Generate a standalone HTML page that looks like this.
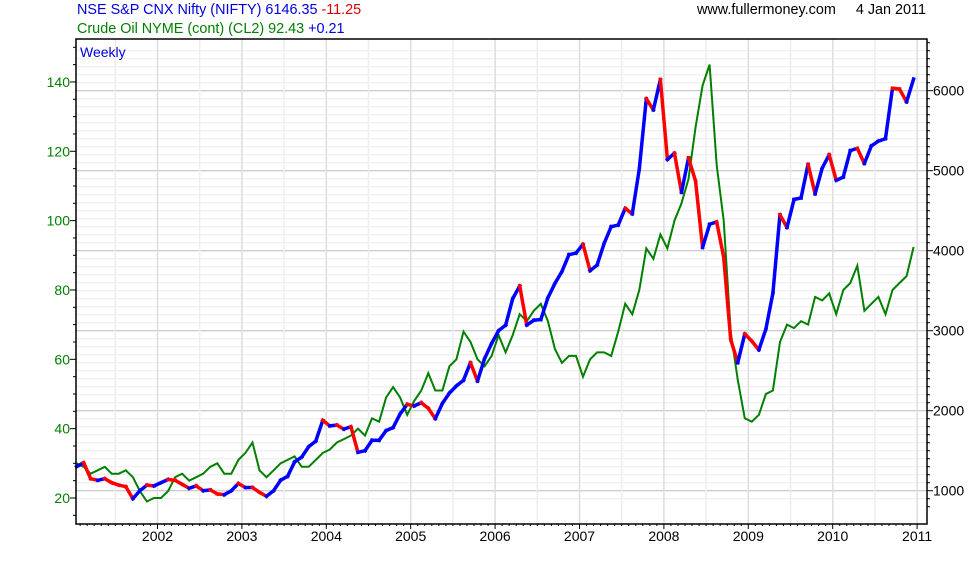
<!DOCTYPE html>
<html><head><meta charset="utf-8"><style>
body{margin:0;background:#fff;width:980px;height:560px;overflow:hidden;font-family:"Liberation Sans",sans-serif}
svg text{font-family:"Liberation Sans",sans-serif}
</style></head><body>
<svg id="c" width="980" height="560" xmlns="http://www.w3.org/2000/svg">
<text x="77" y="14" font-size="14.4" fill="#0000dd">NSE S&amp;P CNX Nifty (NIFTY) 6146.35 <tspan fill="#dd0000">-11.25</tspan></text>
<text x="77" y="33" font-size="14.4" fill="#008000">Crude Oil NYME (cont) (CL2) 92.43 <tspan fill="#0000dd">+0.21</tspan></text>
<text x="926" y="14" font-size="14.4" fill="#000" text-anchor="end">www.fullermoney.com &#160;&#160;&#160; 4 Jan 2011</text>
<g id="grid"></g><g id="series"></g><g id="axes"></g>
<text x="80" y="57" font-size="14" fill="#0000dd">Weekly</text>
</svg>
<script>
const years=['2002','2003','2004','2005','2006','2007','2008','2009','2010','2011'];
const oilTicks=[20,40,60,80,100,120,140];
const niftyTicks=[1000,2000,3000,4000,5000,6000];
const nifty=[1300,1350,1150,1130,1150,1100,1070,1050,900,1000,1070,1060,
1100,1140,1130,1080,1030,1060,1000,1010,960,950,1000,1090,
1040,1040,980,930,1000,1130,1180,1360,1420,1550,1620,1880,
1810,1820,1770,1800,1480,1500,1630,1630,1750,1790,1960,2080,
2060,2100,2030,1900,2090,2220,2310,2380,2600,2370,2650,2840,
3000,3070,3400,3560,3070,3130,3140,3410,3590,3740,3950,3970,
4080,3750,3820,4090,4300,4320,4530,4460,5020,5900,5760,6140,
5140,5220,4730,5160,4870,4040,4330,4360,3920,2890,2600,2960,
2870,2760,3020,3470,4450,4290,4640,4660,5080,4710,5030,5200,
4880,4920,5250,5280,5090,5310,5370,5400,6030,6020,5860,6146];
const oil=[30,29,27,28,29,27,27,28,26,22,19,20,
20,22,26,27,25,26,27,29,30,27,27,31,
33,36,28,26,28,30,31,32,29,29,31,33,
34,36,37,38,40,38,43,42,49,52,49,44,
48,51,56,51,51,58,60,68,65,60,58,61,
67,62,67,73,71,74,76,71,63,59,61,61,
55,60,62,62,61,68,76,73,80,92,89,96,
92,100,105,112,127,139,145,116,100,68,54,43,
42,44,50,51,65,70,69,71,70,78,77,79,
73,80,82,87,74,76,78,73,80,82,84,92.4];
const L=76,R=927,T=39,B=524,x2001=73.1,pxYear=84.4;
const xOf=i=>x2001+(i+0.5)/12*pxYear;
const yOil=v=>498-(v-20)*3.467;
const yN=v=>490.7-(v-1000)*0.08;
const NS='http://www.w3.org/2000/svg';
function mk(t,a,p){const e=document.createElementNS(NS,t);for(const k in a)e.setAttribute(k,a[k]);p.appendChild(e);return e;}
const grid=document.getElementById('grid'),ser=document.getElementById('series'),ax=document.getElementById('axes');
for(let v=900;v<=6500;v+=100){const y=yN(v);if(y<T||y>B)continue;const l=mk('line',{x1:L,x2:R,y1:y,y2:y,stroke:v%1000==0?'#bbbbbb':'#ececec','stroke-width':1},grid);

}
for(let k=0;k<21;k++){const x=x2001+k*pxYear/2;if(x<L||x>R)continue;const l=mk('line',{x1:x,x2:x,y1:T,y2:B,stroke:k%2==0?'#dddddd':'#eeeeee','stroke-width':1.5},grid);

}
let op='';oil.forEach((v,i)=>{op+=(i?'L':'M')+xOf(i).toFixed(1)+' '+yOil(v).toFixed(1)+' ';});
const po=mk('path',{d:op,fill:'none',stroke:'#008000','stroke-width':2},ser);


for(let i=1;i<nifty.length;i++){const up=nifty[i]>=nifty[i-1];
const s=mk('line',{x1:xOf(i-1),y1:yN(nifty[i-1]),x2:xOf(i),y2:yN(nifty[i]),stroke:up?'#0000ff':'#ff0000','stroke-width':3.5,'stroke-linecap':'square'},ser);

}
mk('rect',{x:L,y:T,width:R-L,height:B-T,fill:'none',stroke:'#000','stroke-width':1.5},ax);
for(let v=15;v<=150;v+=5){const y=yOil(v);if(y<T||y>B)continue;mk('line',{x1:L-(v%20==0?6:3),x2:L,y1:y,y2:y,stroke:'#000'},ax);}
oilTicks.forEach(v=>{const t=mk('text',{x:L-6,y:yOil(v)+5,'font-size':14,fill:'#008000','text-anchor':'end'},ax);t.textContent=v;

});
for(let v=800;v<=6600;v+=100){const y=yN(v);if(y<T||y>B)continue;mk('line',{x1:R,x2:R+(v%1000==0?6:3),y1:y,y2:y,stroke:'#000'},ax);}
niftyTicks.forEach(v=>{const t=mk('text',{x:R+6,y:yN(v)+5,'font-size':14,fill:'#000'},ax);t.textContent=v;

});
for(let k=0;k<=120;k++){const x=x2001+k*pxYear/12;if(x<L||x>R)continue;mk('line',{x1:x,x2:x,y1:B,y2:B+(k%12==0?5:2),stroke:'#000'},ax);}
years.forEach((y,i)=>{const t=mk('text',{x:x2001+(i+1)*pxYear,y:541,'font-size':14,fill:'#000','text-anchor':'middle'},ax);t.textContent=y;

});
</script>
</body></html>
